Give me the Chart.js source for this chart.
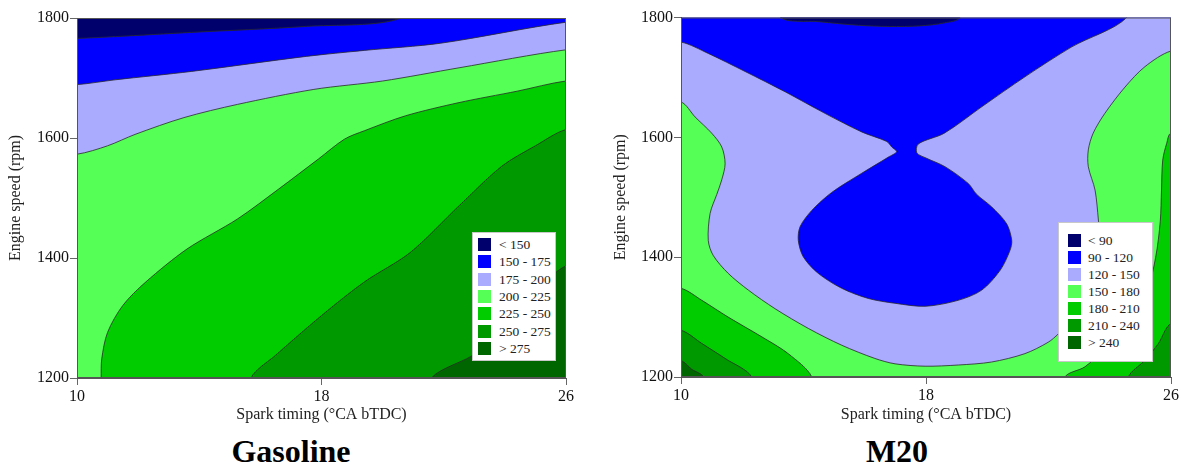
<!DOCTYPE html>
<html lang="en">
<head>
<meta charset="UTF-8">
<title>BSFC contour maps - Gasoline vs M20</title>
<script src="https://cdn.jsdelivr.net/npm/chart.js@4"></script>
<style>
    body {
        margin: 0;
        width: 1182px;
        height: 466px;
        position: relative;
        overflow: hidden;
        background: #fff;
        font-family: 'Liberation Serif', 'Times New Roman', serif;
    }
    .plot { position: absolute; top: 0; }
    .caption {
        position: absolute;
        top: 435px;
        font-size: 32px;
        line-height: 32px;
        font-weight: bold;
        color: #000;
        white-space: nowrap;
        transform: translateX(-50%);
    }
    .legend {
        position: absolute;
        background: #fff;
        border: 1px solid #c8c8c8;
        box-sizing: border-box;
    }
    .legend .sw { position: absolute; width: 13px; height: 13px; }
    .legend .lb {
        position: absolute;
        font-family: 'Liberation Serif', 'Times New Roman', serif;
        font-size: 13.5px;
        line-height: 13px;
        color: #222;
        white-space: nowrap;
    }
</style>
</head>
<body>
    <canvas id="gasChart" class="plot" width="580" height="428" style="left:0"></canvas>
    <canvas id="m20Chart" class="plot" width="582" height="428" style="left:600px"></canvas>
    <div class="legend" id="gasLegend" style="left:472px; top:232px; width:84px; height:129px"></div>
    <div class="legend" id="m20Legend" style="left:1058px; top:222px; width:95px; height:140px"></div>
    <div class="caption" style="left:291px">Gasoline</div>
    <div class="caption" style="left:897px">M20</div>

<script>
const sparkTicks = [10, 18, 26];
const speedTicks = [1200, 1400, 1600, 1800];
const bandColors = ['#00006c', '#0000ff', '#aaaaff', '#55ff55', '#00cc00', '#009900', '#006600'];
const gasBands = ['< 150', '150 - 175', '175 - 200', '200 - 225', '225 - 250', '250 - 275', '> 275'];
const m20Bands = ['< 90', '90 - 120', '120 - 150', '150 - 180', '180 - 210', '210 - 240', '> 240'];

// contour lines, [spark timing, engine speed]
// Gasoline
const gas150 = [[10,1766],[11.25,1769],[13.75,1776],[17.5,1786],[20.6,1800]];
const gas175 = [[10,1689],[11.25,1697],[13.75,1711],[17.5,1736],[19.4,1746],[21.9,1758],[26,1793]];
const gas200 = [[10,1573],[11,1587],[11.9,1606],[13.5,1634],[15.25,1656],[17.75,1681],[20,1695],[22.5,1717],[26,1747]];
const gas225 = [[10.79,1200],[10.81,1232],[11,1276],[11.5,1321],[12.25,1360],[13.6,1415],[15.25,1465],[16.6,1515],
                [17.9,1565],[18.75,1598],[19.4,1612],[20.75,1637],[22.5,1659],[24.4,1678],[26,1695]];
const gas250 = [[15.69,1200],[16.5,1238],[18,1304],[19.4,1360],[20.9,1409],[22.5,1487],[23.9,1553],[25,1587],[26,1614]];
const gas275 = [[21.6,1200],[23.1,1243],[24.75,1332],[26,1387]];

// M20
const m20Cap = [[13.25,1800],[14.5,1793],[15.8,1787],[16.8,1785],[17.8,1786],[18.6,1791],[19.1,1800]];
const m20L120 = [[10,1759],[10.89,1740],[12.09,1710],[13.4,1676],[14.7,1640],[15.9,1609],[16.72,1593],[16.88,1584],
                 [17.04,1576],[16.77,1567],[15.9,1540],[14.92,1508],[14.27,1478],[13.89,1451],[13.83,1428],[14.0,1400],
                 [14.48,1373],[15.25,1348],[16.12,1331],[16.99,1323],[17.97,1318],[19.05,1328],[19.82,1345],[20.42,1378],
                 [20.74,1411],[20.8,1428],[20.63,1456],[20.14,1484],[19.65,1505],[19.38,1523],[18.62,1551],[18.02,1565],
                 [17.7,1574],[17.75,1589],[18.6,1607],[19.82,1651],[21.23,1701],[22.76,1751],[24.55,1800]];
const m20L150 = [[10,1659],[10.46,1634],[11.0,1607],[11.33,1584],[11.44,1556],[11.33,1529],[11.17,1505],[10.95,1473],
                 [10.89,1428],[11.05,1403],[11.54,1373],[12.2,1345],[13.07,1314],[14.16,1281],[15.25,1253],[16.33,1231],
                 [16.99,1222],[17.97,1218],[19.05,1220],[20.14,1225],[21.23,1239],[21.99,1258],[22.32,1272],[22.8,1300],
                 [23.25,1340],[23.55,1390],[23.68,1430],[23.63,1462],[23.52,1512],[23.3,1551],[23.3,1579],[23.46,1607],
                 [23.84,1640],[24.5,1684],[25.15,1718],[26,1744]];
const m20L180a = [[10,1348],[10.68,1328],[11.54,1300],[12.64,1267],[13.5,1239],[14.27,1200]];
const m20L180b = [[22.54,1200],[23.19,1217],[23.9,1250],[24.6,1290],[25.2,1340],[25.5,1400],[25.65,1460],[25.69,1512],
                  [25.73,1562],[25.86,1590],[26,1607]];
const m20L210a = [[10,1278],[10.68,1256],[11.44,1231],[12.31,1200]];
const m20L210b = [[24.61,1200],[25.15,1228],[25.59,1256],[26,1289]];
const m20L240a = [[10,1227],[10.35,1213],[10.73,1200]];

const X0 = sparkTicks[0], X1 = sparkTicks[sparkTicks.length - 1];
const Y0 = speedTicks[0], Y1 = speedTicks[speedTicks.length - 1];
const corner = { TL: [X0 - 1, Y1 + 50], TR: [X1 + 1, Y1 + 50], BR: [X1 + 1, Y0 - 50], BL: [X0 - 1, Y0 - 50] };

// push a line end just past the plot edge it sits on
function outside([x, y]) {
    if (x <= X0) return [X0 - 1, y];
    if (x >= X1) return [X1 + 1, y];
    if (y >= Y1) return [x, Y1 + 50];
    return [x, Y0 - 50];
}

// closed region: the contour line plus the outer corners on its high side
function shape(line, corners) {
    const pts = [outside(line[0]), ...line, outside(line[line.length - 1]), ...corners.map(c => corner[c])];
    return pts.map(([x, y]) => ({ x, y }));
}

function layers(bg, list) {
    const sets = [{
        data: ['TL', 'TR', 'BR', 'BL'].map(c => ({ x: corner[c][0], y: corner[c][1] })),
        backgroundColor: bandColors[bg],
        borderWidth: 0
    }];
    list.forEach(l => sets.push({
        data: shape(l[0], l[2]),
        backgroundColor: bandColors[l[1]],
        borderColor: '#2a2a2a',
        borderWidth: 0.8
    }));
    return sets.map((s, i) => Object.assign(s, {
        fill: 'shape', order: sets.length - i, pointRadius: 0, tension: 0.3
    }));
}

const serif = "'Liberation Serif', 'Times New Roman', serif";

const framePlugin = {
    id: 'frame',
    afterDatasetsDraw(chart) {
        const { ctx, chartArea: a } = chart;
        ctx.save();
        ctx.strokeStyle = '#555';
        ctx.lineWidth = 1;
        ctx.strokeRect(a.left + 0.5, a.top + 0.5, a.width - 1, a.height - 1);
        ctx.restore();
    }
};

function makeChart(id, datasets, lay) {
    new Chart(document.getElementById(id), {
        type: 'line',
        data: { datasets: datasets },
        options: {
            responsive: false,
            animation: false,
            events: [],
            layout: { padding: { left: lay.pl, top: lay.pt, right: lay.pr, bottom: 0 } },
            elements: { line: { capBezierPoints: false } },
            plugins: { legend: { display: false }, tooltip: { enabled: false } },
            scales: {
                x: {
                    type: 'linear', min: X0, max: X1,
                    afterBuildTicks: s => { s.ticks = sparkTicks.map(v => ({ value: v })); },
                    afterFit: s => { s.height = lay.xh; },
                    grid: { drawOnChartArea: false, tickLength: 7, tickColor: '#666' },
                    border: { color: '#555' },
                    ticks: { color: '#111', font: { family: serif, size: 16 }, padding: 2, maxRotation: 0,
                             autoSkip: false, callback: v => String(v) },
                    title: { display: true, text: 'Spark timing (°CA bTDC)', color: '#222',
                             font: { family: serif, size: 16 }, padding: { top: 2, bottom: 4 } }
                },
                y: {
                    type: 'linear', min: Y0, max: Y1,
                    afterBuildTicks: s => { s.ticks = speedTicks.map(v => ({ value: v })); },
                    afterFit: s => { s.width = lay.yw; },
                    grid: { drawOnChartArea: false, tickLength: 7, tickColor: '#666' },
                    border: { color: '#555' },
                    ticks: { color: '#111', font: { family: serif, size: 16 }, padding: 1,
                             autoSkip: false, callback: v => String(v) },
                    title: { display: true, text: 'Engine speed (rpm)', color: '#222',
                             font: { family: serif, size: 16 }, padding: { top: 4, bottom: 4 } }
                }
            }
        },
        plugins: [framePlugin]
    });
}

makeChart('gasChart', layers(0, [
    [gas150, 1, ['TR', 'BR', 'BL']],
    [gas175, 2, ['BR', 'BL']],
    [gas200, 3, ['BR', 'BL']],
    [gas225, 4, ['BR']],
    [gas250, 5, ['BR']],
    [gas275, 6, ['BR']]
]), { pl: 2.4, pt: 18, pr: 14, yw: 74.6, xh: 50 });

makeChart('m20Chart', layers(1, [
    [m20Cap, 0, []],
    [m20L120, 2, ['TR', 'BR', 'BL']],
    [m20L150, 3, ['BR', 'BL']],
    [m20L180a, 4, ['BL']],
    [m20L180b, 4, ['BR']],
    [m20L210a, 5, ['BL']],
    [m20L210b, 5, ['BR']],
    [m20L240a, 6, ['BL']]
]), { pl: 7.4, pt: 17.5, pr: 11, yw: 73.6, xh: 51 });

function fillLegend(id, labels, top0, step, swLeft, textLeft) {
    const box = document.getElementById(id);
    labels.forEach((t, i) => {
        const sw = document.createElement('div');
        sw.className = 'sw';
        sw.style.left = swLeft + 'px';
        sw.style.top = (top0 + i * step) + 'px';
        sw.style.background = bandColors[i];
        const lb = document.createElement('div');
        lb.className = 'lb';
        lb.style.left = textLeft + 'px';
        lb.style.top = (top0 + i * step) + 'px';
        lb.textContent = t;
        box.appendChild(sw);
        box.appendChild(lb);
    });
}
fillLegend('gasLegend', gasBands, 5, 17.3, 5, 26);
fillLegend('m20Legend', m20Bands, 10.5, 17.1, 9, 29);
</script>
</body>
</html>
